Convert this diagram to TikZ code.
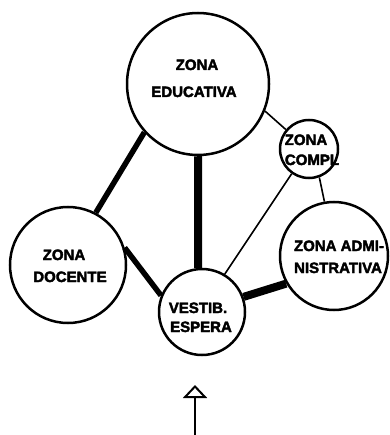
\documentclass[tikz,border=0pt]{standalone}
\usepackage{fontspec}
\setmainfont{Liberation Sans}[BoldFeatures={FakeBold=2.5}]
\usetikzlibrary{arrows.meta}
\begin{document}
\begin{tikzpicture}[x=1pt,y=-1pt,
  zone/.style={circle,draw=black,line width=2.5pt,inner sep=0pt,fill=white},
  txt/.style={anchor=base,inner sep=0pt,font=\fontsize{15}{18}\selectfont\bfseries},
  thin/.style={line width=1.6pt},
  thick/.style={line width=5.5pt},
  heavy/.style={line width=8pt}]
\useasboundingbox (0,0) rectangle (389,435);
\node[zone,minimum size=142pt] (edu) at (198,84) {};
\node[zone,minimum size=116pt] (doc) at (68,265) {};
\node[zone,minimum size=58pt] (cmp) at (309,149) {};
\node[zone,minimum size=108pt] (adm) at (334,256) {};
\node[zone,minimum size=86pt] (ves) at (202,312) {};
% links
\draw[thick] (edu.222) -- (doc.62);
\draw[heavy] (edu.270) -- (ves.95);
\draw[thin] (edu.338) -- (cmp.140);
\draw[thin] (cmp.290) -- (adm.100);
\draw[thin] (cmp.235) -- (ves.59);
\draw[thick] (doc.17) -- (ves.158);
\draw[heavy] (ves.20) -- (adm.210);
% labels
\node[txt] (e1) at (197,70) {ZONA};
\node[txt] (e2) at (194,97) {EDUCATIVA};
\node[txt] (d1) at (64,260) {ZONA};
\node[txt] (d2) at (70,282) {DOCENTE};
\node[txt] (c1) at (306,145) {ZONA};
\node[txt] (c2) at (312,165) {COMPL};
\node[txt] (a1) at (339,251) {ZONA ADMI-};
\node[txt] (a2) at (338,273) {NISTRATIVA};
\node[txt] (v1) at (198,313) {VESTIB.};
\node[txt] (v2) at (201,332) {ESPERA};
% entrance arrow
\coordinate (in) at (195,435);
\coordinate (tip) at (195,385);
\draw[line width=2pt,-{Triangle[open,length=13pt,width=24pt]}] (in) -- (tip);
\end{tikzpicture}
\end{document}
